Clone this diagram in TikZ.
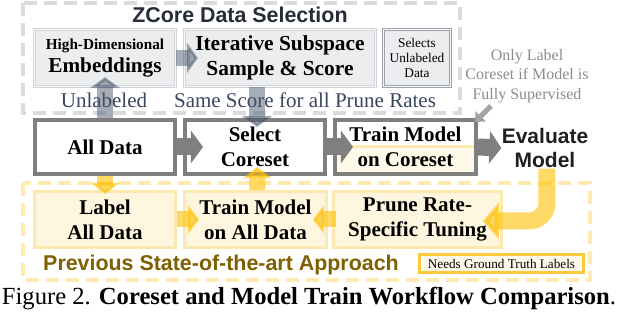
\documentclass[tikz,border=0pt]{standalone}
\usepackage{fontspec}
\setmainfont{Liberation Serif}
\setsansfont{Liberation Sans}
\usetikzlibrary{arrows.meta,positioning}

\definecolor{zframe}{HTML}{DADBDF}
\definecolor{zfill}{HTML}{ECEDEF}
\definecolor{zline}{HTML}{D2D4D8}
\definecolor{zdark}{HTML}{9EA3AB}
\definecolor{ztext}{HTML}{3A4560}
\definecolor{ztitle}{HTML}{262C38}
\definecolor{mainline}{HTML}{7F7F7F}
\definecolor{zarrow}{HTML}{44546A}
\definecolor{yframe}{HTML}{FDEBB3}
\definecolor{yfill}{HTML}{FEF6DE}
\definecolor{yline}{HTML}{FCE9B0}
\definecolor{yarrow}{HTML}{FFC000}
\definecolor{ytext}{HTML}{7F6000}
\definecolor{ygt}{HTML}{FCC83C}
\definecolor{notegray}{HTML}{8C8C8C}

\begin{document}
\begin{tikzpicture}[x=0.5pt, y=-0.5pt,
    stepfont/.style={font=\fontsize{10.5}{12.5}\selectfont\bfseries},
    zbox/.style={draw=zline, fill=zfill, line width=0.6pt, double=white!60!zfill, double distance=0.4pt, align=center, inner sep=0pt, minimum height=28.5pt},
    mainbox/.style={draw=mainline, fill=white, line width=2pt, align=center, inner sep=0pt, minimum height=27pt, minimum width=70pt, stepfont},
    ybox/.style={draw=yline, fill=yfill, line width=1.5pt, align=center, inner sep=0pt, minimum height=28pt, minimum width=70.5pt, stepfont},
    garrow/.style={draw=mainline, line width=8.5pt, -{Triangle[length=6pt,width=16pt]}},
    zarrowline/.style={draw=zarrow, opacity=0.48, line width=8pt, -{Triangle[length=5.5pt,width=15pt]}},
    yarrowline/.style={draw=yarrow, opacity=0.6, line width=8pt, -{Triangle[length=5.5pt,width=14pt]}},
    frame/.style={line width=2pt, dash pattern=on 6.5pt off 3.5pt}]
    \useasboundingbox (0,0) rectangle (618,314);

    \draw[frame, zframe] (23,3) rectangle (460,113);
    \draw[frame, yframe] (23,183) rectangle (590,280);

    \node[font=\fontsize{10.7}{12}\selectfont\sffamily\bfseries, text=ztitle] (ztitle) at (240,15) {ZCore Data Selection};

    \node[zbox, minimum width=70.5pt] (emb) at (105,58)
        {\fontsize{7.6}{9}\selectfont\bfseries High-Dimensional\\[-0.5pt]\fontsize{10.6}{12}\selectfont\bfseries Embeddings};
    \node[zbox, minimum width=95.5pt, font=\fontsize{10.7}{12.5}\selectfont\bfseries] (iter) at (280,58)
        {Iterative Subspace\\Sample \& Score};
    \node[zbox, draw=zdark, minimum width=33.5pt, font=\fontsize{6.65}{7.5}\selectfont] (sel) at (417,58)
        {Selects\\Unlabeled\\Data};

    \node[font=\fontsize{10.5}{12}\selectfont, text=ztext] (unlab) at (104,100) {Unlabeled};
    \node[font=\fontsize{10.5}{12}\selectfont, text=ztext] (same) at (305,100) {Same Score for all Prune Rates};

    \node[mainbox] (all) at (105,147) {All Data};
    \node[mainbox] (core) at (255,147) {Select\\Coreset};
    \node[mainbox, minimum width=70.5pt, path picture={
        \fill[yfill!70] (path picture bounding box.west) rectangle (path picture bounding box.south east);
        \draw[yline, line width=1.5pt] (path picture bounding box.west) -- (path picture bounding box.east);
    }] (trainc) at (405.5,147) {Train Model\\on Coreset};
    \node[font=\fontsize{10.5}{12.5}\selectfont\sffamily\bfseries, text=black!88, align=center, inner sep=0pt] (eval) at (545,148) {Evaluate\\Model};

    \node[font=\fontsize{8}{9.75}\selectfont, text=notegray, align=center] (note) at (527,76)
        {Only Label\\Coreset if Model is\\Fully Supervised};
    \coordinate (notetail) at (491,106);

    \node[ybox] (label) at (105,219.5) {Label\\All Data};
    \node[ybox, minimum width=71pt] (trainall) at (255.5,219.5) {Train Model\\on All Data};
    \node[ybox, minimum width=84pt] (prune) at (417.5,219.5) {Prune Rate-\\Specific Tuning};

    \node[font=\fontsize{10.7}{12}\selectfont\sffamily\bfseries, text=ytext] (prev) at (221,265) {Previous State-of-the-art Approach};
    \node[draw=ygt, fill=yfill!60, line width=1.5pt, minimum width=82pt, minimum height=9pt, inner sep=0pt,
        font=\fontsize{6.6}{7}\selectfont] (gt) at (501.5,263.5) {Needs Ground Truth Labels};

    \draw[zarrowline] (emb.east) -- (198,58);
    \draw[zarrowline] (all.north) -- ([yshift=5pt]emb.south);
    \draw[zarrowline] ([xshift=1pt]core.north |- iter.south) -- ([xshift=1pt,yshift=-4.5pt]core.north);

    \draw[garrow] (all.east) -- ([xshift=10pt]core.west);
    \draw[garrow] (core.east) -- ([xshift=10pt]trainc.west);
    \draw[garrow] (trainc.east) -- (eval.west);
    \draw[draw=notegray!80, line width=2.5pt, -{Triangle[length=4pt,width=7pt]}] (notetail) -- ([shift={(-3,4)}]trainc.north east);

    \draw[yarrowline] (all.south) -- ([yshift=-2pt]label.north);
    \draw[yarrowline] ([xshift=1pt]trainall.north) -- ([xshift=1pt,yshift=4.5pt]core.south);
    \draw[yarrowline] (label.east) -- ([xshift=8pt]trainall.west);
    \draw[yarrowline] ([xshift=2pt]prune.west) -- ([xshift=-7.5pt]trainall.east);
    \draw[draw=yarrow, opacity=0.6, line width=8.5pt, rounded corners=9pt, -{Triangle[length=8pt,width=18pt]}]
        ([xshift=1pt]eval.south) |- ([xshift=-10pt,yshift=-0.75pt]prune.east);

    \node[font=\fontsize{12.3}{14}\selectfont] (caption) at (309,299)
        {Figure 2. \textbf{Coreset and Model Train Workflow Comparison}.};
\end{tikzpicture}
\end{document}
